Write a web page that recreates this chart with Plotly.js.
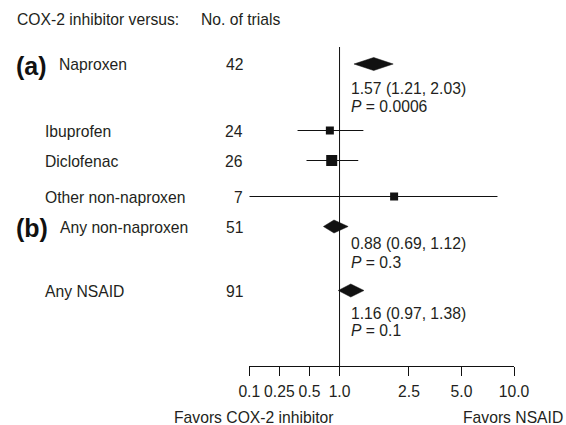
<!DOCTYPE html>
<html>
<head>
<meta charset="utf-8">
<script src="https://cdn.plot.ly/plotly-3.0.1.min.js"></script>
<style>html,body{margin:0;padding:0;background:#fff;}#chart{width:566px;height:425px;}</style>
</head>
<body>
<div id="chart"></div>
<script>
// ---- data ----
const categories = ['Naproxen', 'Ibuprofen', 'Diclofenac', 'Other non-naproxen', 'Any non-naproxen', 'Any NSAID'];
const trials = [42, 24, 26, 7, 51, 91];
const estimate = [1.57, 0.80, 0.835, 2.055, 0.88, 1.16];
const lower = [1.21, 0.38, 0.467, 0.10, 0.69, 0.97];
const upper = [2.03, 1.37, 1.28, 8.04, 1.12, 1.38];
const pooled = [true, false, false, false, true, true];
const pValues = ['0.0006', null, null, null, '0.3', '0.1'];
const sectionLabels = ['(a)', null, null, null, '(b)', null];
const tickValues = [0.1, 0.25, 0.5, 1, 2.5, 5, 10];
const tickLabels = ['0.1', '0.25', '0.5', '1.0', '2.5', '5.0', '10.0'];

// ---- layout constants ----
const rowY = [64, 130.5, 160.5, 196.5, 226.5, 290.5];
const labelX = [57, 43, 43, 43, 58, 43];
const estY = [88, null, null, null, 243.5, 313];
const pY = [106.5, null, null, null, 262, 330];
const squareSize = [0, 8, 11, 8, 0, 0];
const diamondHalfH = 6.5;
const FONT = '"Liberation Sans", Arial, Helvetica, sans-serif';
const TXT = '#231f20';
const FS = 15.7;

// Axis scale of the original: log scale above 1, evenly spaced ticks below 1
const lowTicks = [0.1, 0.25, 0.5, 1];
const lowStep = 30 / 174;
function T(v) {
  if (v >= 1) return Math.log10(v);
  for (let i = 0; i < lowTicks.length - 1; i++) {
    const a = lowTicks[i], b = lowTicks[i + 1];
    if (v <= b || i === 0 && v < a) {
      const f = Math.log(v / a) / Math.log(b / a);
      return -lowStep * (lowTicks.length - 1 - i) + lowStep * f;
    }
  }
  return 0;
}

const traces = [];
// CI lines + squares for individual comparisons
const idx = categories.map((c, i) => i).filter(i => !pooled[i]);
traces.push({
  type: 'scatter', mode: 'markers',
  x: idx.map(i => T(estimate[i])),
  y: idx.map(i => rowY[i]),
  marker: { symbol: 'square', size: idx.map(i => squareSize[i]), color: '#111', opacity: 1, line: { width: 0 } },
  error_x: {
    type: 'data', symmetric: false,
    array: idx.map(i => T(upper[i]) - T(estimate[i])),
    arrayminus: idx.map(i => T(estimate[i]) - T(lower[i])),
    width: 0, thickness: 1, color: '#111'
  },
  hoverinfo: 'skip', showlegend: false, cliponaxis: false
});
// Diamonds for pooled estimates
categories.forEach((c, i) => {
  if (!pooled[i]) return;
  traces.push({
    type: 'scatter', mode: 'lines', fill: 'toself',
    x: [T(lower[i]), T(estimate[i]), T(upper[i]), T(estimate[i]), T(lower[i])],
    y: [rowY[i], rowY[i] - diamondHalfH, rowY[i], rowY[i] + diamondHalfH, rowY[i]],
    line: { color: '#111', width: 0.5 }, fillcolor: '#111',
    hoverinfo: 'skip', showlegend: false
  });
});

const ann = [];
function addText(text, x, y, opts) {
  ann.push(Object.assign({
    text: text, x: x, y: y, xref: 'paper', yref: 'y',
    xanchor: 'left', yanchor: 'middle', showarrow: false,
    font: { family: FONT, size: FS, color: TXT }
  }, opts || {}));
}
addText('COX-2 inhibitor versus:', 15 / 566, 19.5);
addText('No. of trials', 199 / 566, 19.5);
categories.forEach((c, i) => {
  addText(c, labelX[i] / 566, rowY[i] + 0.5);
  addText(String(trials[i]), 245.5 / 566, rowY[i] + 0.5, { xanchor: 'right' });
  if (sectionLabels[i]) {
    addText('<b>' + sectionLabels[i] + '</b>', 14 / 566, rowY[i] + 1.5,
      { font: { family: FONT, size: 25, color: '#111' } });
  }
  if (pooled[i]) {
    addText(estimate[i].toFixed(2) + ' (' + lower[i].toFixed(2) + ', ' + upper[i].toFixed(2) + ')', 348.5 / 566, estY[i]);
    addText('<i>P</i> = ' + pValues[i], 348.5 / 566, pY[i]);
  }
});
addText('Favors COX-2 inhibitor', 172 / 566, 417);
addText('Favors NSAID', 565 / 566, 417, { xanchor: 'right' });

const layout = {
  width: 566, height: 425,
  margin: { l: 0, r: 0, t: 0, b: 0, pad: 0 },
  paper_bgcolor: '#fff', plot_bgcolor: 'rgba(0,0,0,0)',
  showlegend: false,
  xaxis: {
    domain: [249.3 / 566, 514 / 566],
    range: [T(0.1), T(10)],
    anchor: 'free', position: 1 - 366 / 425,
    showline: true, linecolor: '#111', linewidth: 1,
    ticks: 'outside', ticklen: 9, tickwidth: 1, tickcolor: '#111',
    tickvals: tickValues.map(T), ticktext: tickLabels,
    tickfont: { family: FONT, size: FS, color: TXT },
    ticklabelstandoff: 2,
    showgrid: false, zeroline: false, fixedrange: true
  },
  yaxis: {
    domain: [0, 1], range: [425, 0], visible: false,
    showgrid: false, zeroline: false, fixedrange: true
  },
  shapes: [{
    type: 'line', xref: 'x', yref: 'y',
    x0: T(1), x1: T(1), y0: 47, y1: 366,
    line: { color: '#111', width: 1 }
  }],
  annotations: ann
};

Plotly.newPlot('chart', traces, layout, { staticPlot: true, displayModeBar: false });
</script>
</body>
</html>
